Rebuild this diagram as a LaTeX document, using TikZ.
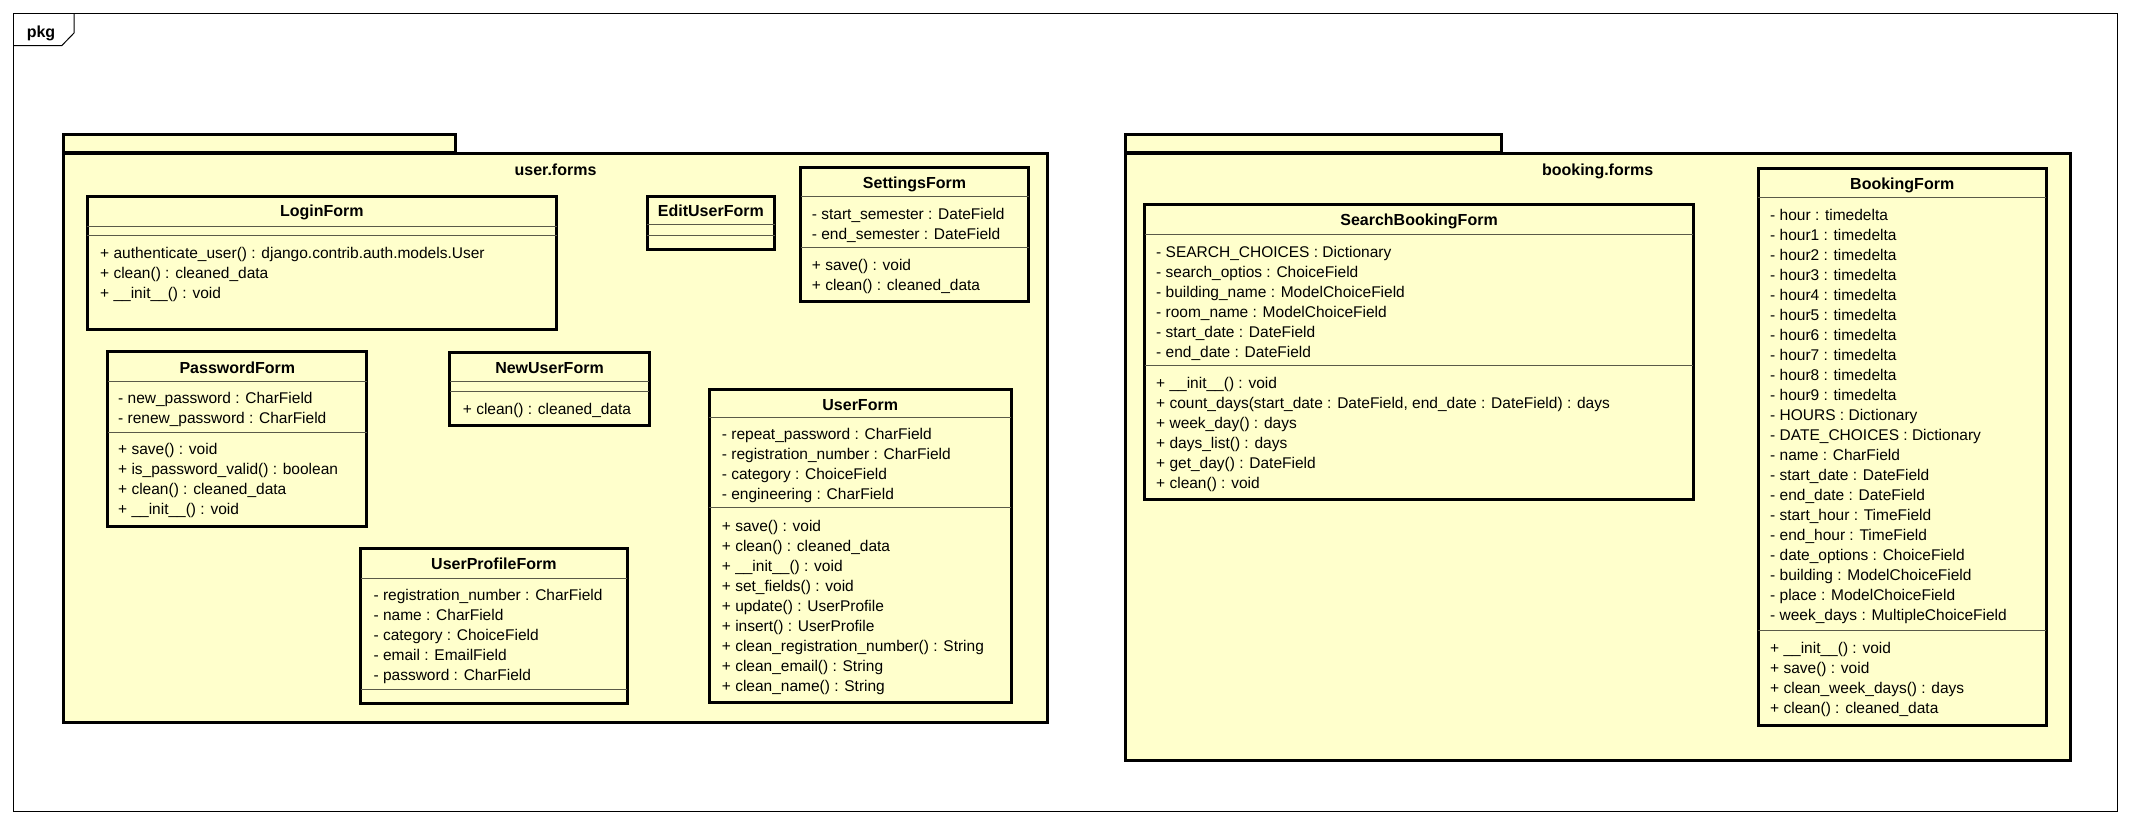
\documentclass[tikz,border=0pt]{standalone}
\usepackage{fontspec}
\setmainfont{Liberation Sans}
\definecolor{umlfill}{HTML}{FFFFCC}
\definecolor{sepc}{HTML}{5A5A48}
% name, style, L, T, R, B
\newcommand\ucbox[6]{\node[#2, minimum width={#5-#3-3}, minimum height={#6-#4-3}] (#1) at ({(#3+#5)/2},{(#4+#6)/2}) {};}
% L, R, y
\newcommand\ucsep[3]{\draw[sep] ({#1+1.5},#3) -- ({#2-1.5},#3);}
% name, L, R, y, text
\newcommand\uctitle[5]{\node[ttl] (#1) at ({(#2+#3)/2},#4) {#5};}
\tikzset{
  cls/.style={draw=black, line width=3pt, fill=umlfill, inner sep=0pt, outer sep=0pt},
  pkgb/.style={draw=black, line width=3pt, fill=umlfill, inner sep=0pt, outer sep=0pt},
  sep/.style={draw=sepc, line width=1pt},
  mem/.style={font=\fontsize{15.5}{18}\selectfont, inner sep=0pt, anchor=base west, yshift=-5.5pt},
  ttl/.style={font=\fontsize{16}{19}\selectfont\bfseries, inner sep=0pt, anchor=base, yshift=-5.8pt},
  framebox/.style={draw=black, line width=1pt, fill=white, inner sep=0pt, outer sep=0pt},
  frameline/.style={draw=black, line width=1pt}
}
\begin{document}
\begin{tikzpicture}[x=1pt, y=-1pt]
\useasboundingbox (0,0) rectangle (2130,825);
\fill[white] (0,0) rectangle (2130,825);

% outer frame
\node[framebox, minimum width=2103.7, minimum height=797.4] (frame) at (1065.65,412.5) {};
\draw[frameline] (13.8,45.7) -- (61.7,45.7) -- (74,33) -- (74,13.8);
\node[ttl] (pkglabel) at (41,32) {pkg};

% ---------------- user.forms ----------------
\ucbox{utab}{pkgb}{62}{132.5}{457}{153.5}
\ucbox{ubody}{pkgb}{62}{152}{1049}{724}
\uctitle{ulabel}{62}{1049}{170}{user.forms}

% LoginForm
\ucbox{login}{cls}{85.7}{195}{558}{330.7}
\uctitle{loginT}{85.7}{558}{210.7}{LoginForm}
\ucsep{85.7}{558}{226}
\ucsep{85.7}{558}{235}
\foreach \t [count=\i] in {+ authenticate\_user() : django.contrib.auth.models.User, + clean() : cleaned\_data, + \_\_init\_\_() : void}
  \node[mem] (login-m\i) at (100,{233.3+20*\i}) {\t};

% EditUserForm
\ucbox{edit}{cls}{645.7}{195}{776}{250.7}
\uctitle{editT}{645.7}{776}{211}{EditUserForm}
\ucsep{645.7}{776}{224.3}
\ucsep{645.7}{776}{235}

% SettingsForm
\ucbox{settings}{cls}{799}{165.7}{1030}{302.7}
\uctitle{settingsT}{799}{1030}{182.7}{SettingsForm}
\ucsep{799}{1030}{196}
\foreach \t [count=\i] in {- start\_semester : DateField, - end\_semester : DateField}
  \node[mem] (settings-a\i) at (811.7,{194.3+20*\i}) {\t};
\ucsep{799}{1030}{247}
\foreach \t [count=\i] in {+ save() : void, + clean() : cleaned\_data}
  \node[mem] (settings-m\i) at (811.7,{245+20*\i}) {\t};

% PasswordForm
\ucbox{password}{cls}{106.3}{350}{368.4}{527.7}
\uctitle{passwordT}{106.3}{368.4}{367.3}{PasswordForm}
\ucsep{106.3}{368.4}{381.7}
\foreach \t [count=\i] in {- new\_password : CharField, - renew\_password : CharField}
  \node[mem] (password-a\i) at (118,{378.3+20*\i}) {\t};
\ucsep{106.3}{368.4}{432.3}
\foreach \t [count=\i] in {+ save() : void, + is\_password\_valid() : boolean, + clean() : cleaned\_data, + \_\_init\_\_() : void}
  \node[mem] (password-m\i) at (118,{429.3+20*\i}) {\t};

% NewUserForm
\ucbox{newuser}{cls}{448.3}{351}{650.7}{427.3}
\uctitle{newuserT}{448.3}{650.7}{367.3}{NewUserForm}
\ucsep{448.3}{650.7}{381.7}
\ucsep{448.3}{650.7}{391}
\node[mem] (newuser-m1) at (462.7,409) {+ clean() : cleaned\_data};

% UserProfileForm
\ucbox{profile}{cls}{359.2}{547.3}{628.6}{705}
\uctitle{profileT}{359.2}{628.6}{564}{UserProfileForm}
\ucsep{359.2}{628.6}{578.3}
\foreach \t [count=\i] in {- registration\_number : CharField, - name : CharField, - category : ChoiceField, - email : EmailField, - password : CharField}
  \node[mem] (profile-a\i) at (373.4,{575+20*\i}) {\t};
\ucsep{359.2}{628.6}{689.3}

% UserForm
\ucbox{user}{cls}{707.7}{388.3}{1012.7}{704.3}
\uctitle{userT}{707.7}{1012.7}{404.3}{UserForm}
\ucsep{707.7}{1012.7}{417.3}
\foreach \t [count=\i] in {- repeat\_password : CharField, - registration\_number : CharField, - category : ChoiceField, - engineering : CharField}
  \node[mem] (user-a\i) at (721.7,{414+20*\i}) {\t};
\ucsep{707.7}{1012.7}{507.7}
\foreach \t [count=\i] in {+ save() : void, + clean() : cleaned\_data, + \_\_init\_\_() : void, + set\_fields() : void, + update() : UserProfile, + insert() : UserProfile, + clean\_registration\_number() : String, + clean\_email() : String, + clean\_name() : String}
  \node[mem] (user-m\i) at (721.7,{506+20*\i}) {\t};

% ---------------- booking.forms ----------------
\ucbox{btab}{pkgb}{1123.5}{132.7}{1503}{153.5}
\ucbox{bbody}{pkgb}{1123.5}{152}{2071.7}{761.7}
\uctitle{blabel}{1123.5}{2071.7}{170}{booking.forms}

% SearchBookingForm
\ucbox{search}{cls}{1143.3}{203.3}{1694.8}{501}
\uctitle{searchT}{1143.3}{1694.8}{220}{SearchBookingForm}
\ucsep{1143.3}{1694.8}{234.3}
\foreach \t [count=\i] in {- SEARCH\_CHOICES : Dictionary, - search\_optios : ChoiceField, - building\_name : ModelChoiceField, - room\_name : ModelChoiceField, - start\_date : DateField, - end\_date : DateField}
  \node[mem] (search-a\i) at (1156,{231.7+20*\i}) {\t};
\ucsep{1143.3}{1694.8}{365.7}
\foreach \t [count=\i] in {+ \_\_init\_\_() : void, {+ count\_days(start\_date : DateField, end\_date : DateField) : days}, + week\_day() : days, + days\_list() : days, + get\_day() : DateField, + clean() : void}
  \node[mem] (search-m\i) at (1156,{362.7+20*\i}) {\t};

% BookingForm
\ucbox{booking}{cls}{1756.7}{166.7}{2047.7}{726.7}
\uctitle{bookingT}{1756.7}{2047.7}{183.3}{BookingForm}
\ucsep{1756.7}{2047.7}{197.3}
\foreach \t [count=\i] in {- hour : timedelta, - hour1 : timedelta, - hour2 : timedelta, - hour3 : timedelta, - hour4 : timedelta, - hour5 : timedelta, - hour6 : timedelta, - hour7 : timedelta, - hour8 : timedelta, - hour9 : timedelta, - HOURS : Dictionary, - DATE\_CHOICES : Dictionary, - name : CharField, - start\_date : DateField, - end\_date : DateField, - start\_hour : TimeField, - end\_hour : TimeField, - date\_options : ChoiceField, - building : ModelChoiceField, - place : ModelChoiceField, - week\_days : MultipleChoiceField}
  \node[mem] (booking-a\i) at (1770,{195+20*\i}) {\t};
\ucsep{1756.7}{2047.7}{630.7}
\foreach \t [count=\i] in {+ \_\_init\_\_() : void, + save() : void, + clean\_week\_days() : days, + clean() : cleaned\_data}
  \node[mem] (booking-m\i) at (1770,{627.7+20*\i}) {\t};
\end{tikzpicture}
\end{document}
